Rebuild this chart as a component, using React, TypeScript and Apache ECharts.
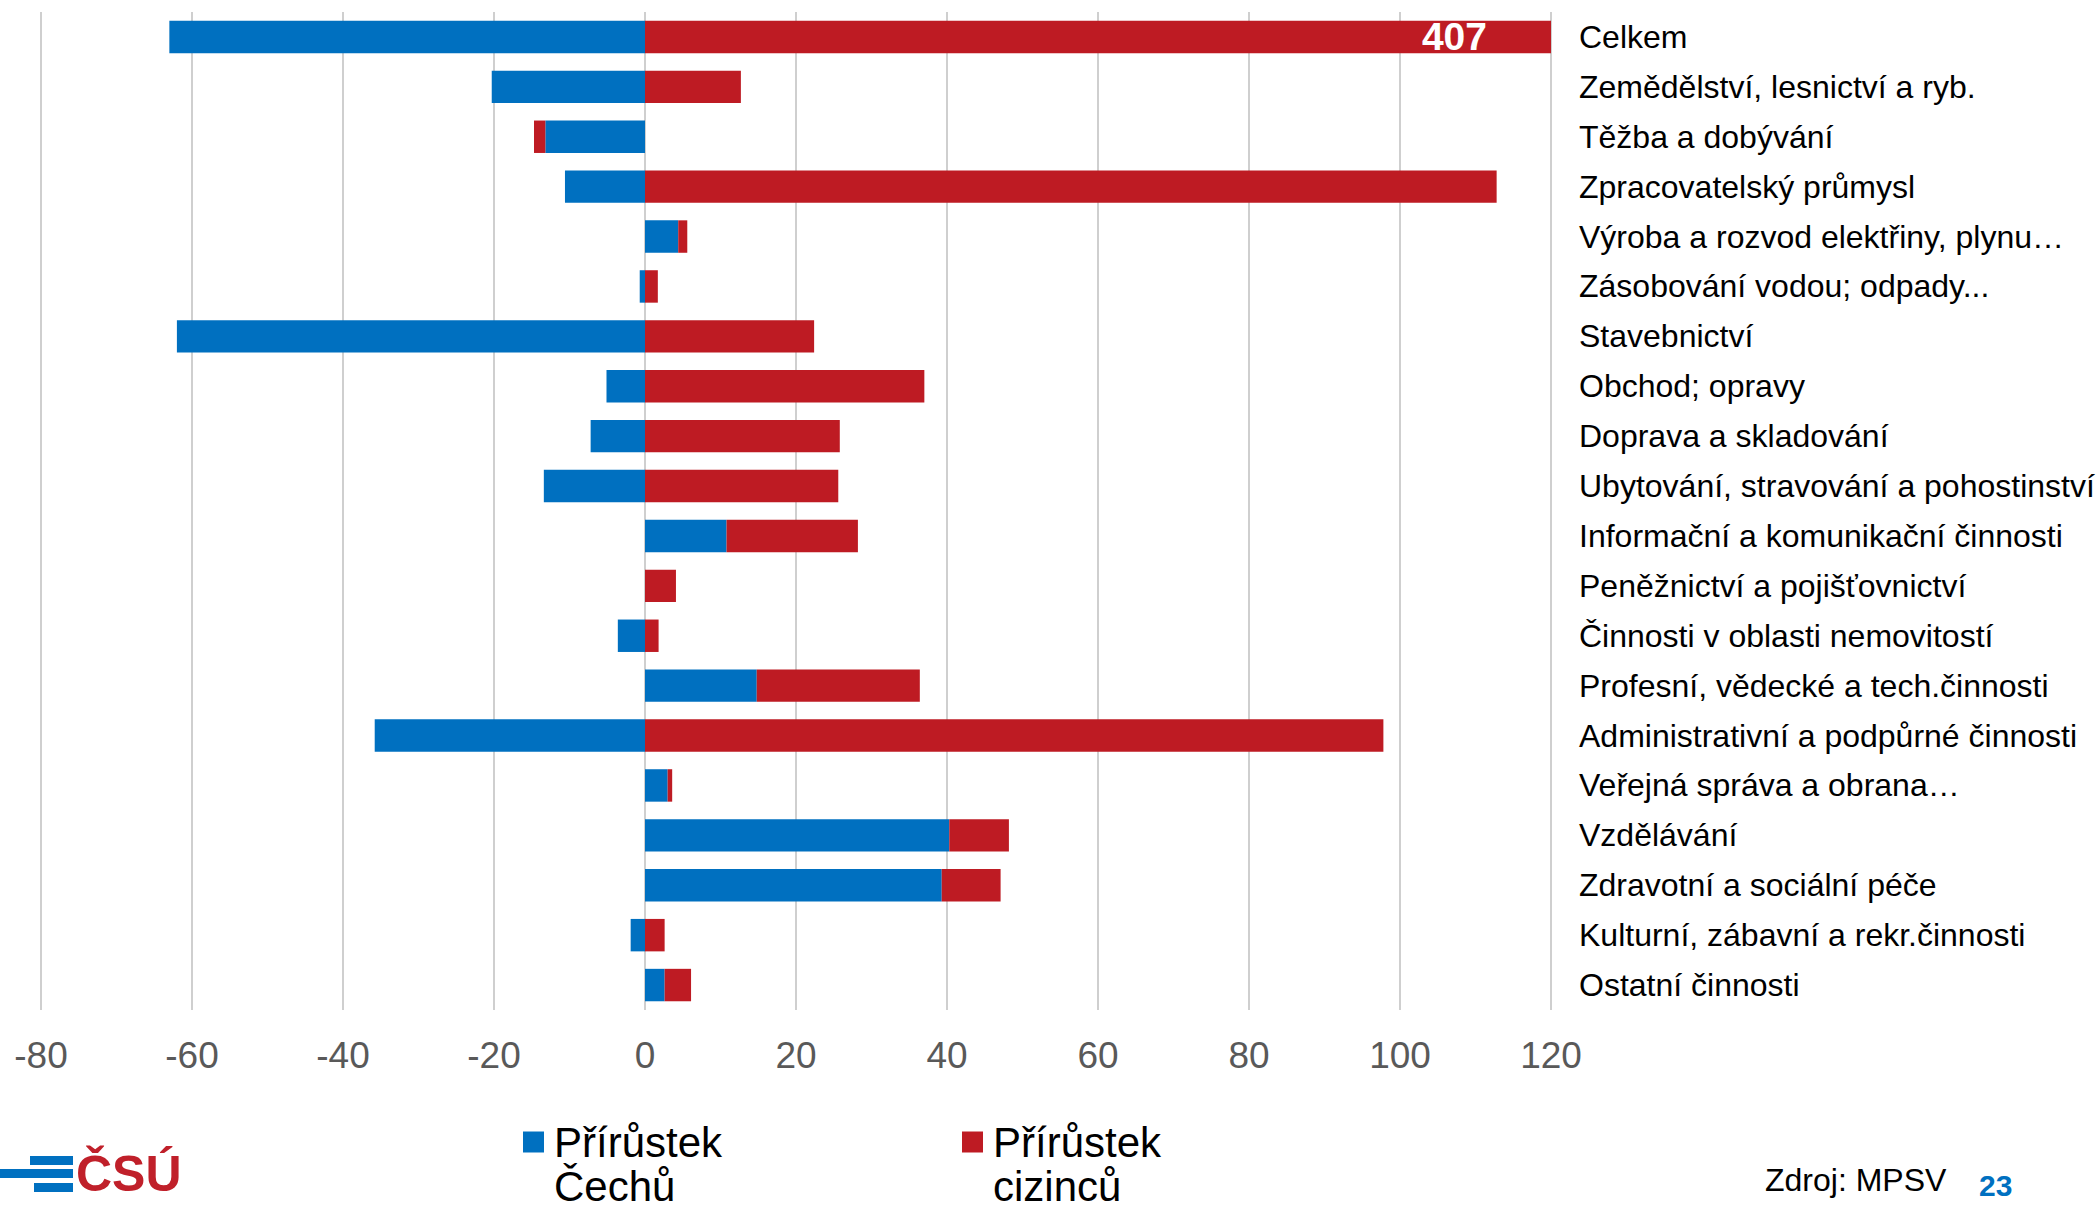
import React, { useEffect, useRef } from "react";
import * as echarts from "echarts";

const categories = [
  "Celkem",
  "Zemědělství, lesnictví a ryb.",
  "Těžba a dobývání",
  "Zpracovatelský průmysl",
  "Výroba a rozvod elektřiny, plynu…",
  "Zásobování vodou; odpady...",
  "Stavebnictví",
  "Obchod; opravy",
  "Doprava a skladování",
  "Ubytování, stravování a pohostinství",
  "Informační a komunikační činnosti",
  "Peněžnictví a pojišťovnictví",
  "Činnosti v oblasti nemovitostí",
  "Profesní, vědecké a tech.činnosti",
  "Administrativní a podpůrné činnosti",
  "Veřejná správa a obrana…",
  "Vzdělávání",
  "Zdravotní a sociální péče",
  "Kulturní, zábavní a rekr.činnosti",
  "Ostatní činnosti",
];

const cechu = [-63.0, -20.3, -13.2, -10.6, 4.4, -0.7, -62.0, -5.1, -7.2, -13.4, 10.8, 0, -3.6, 14.8, -35.8, 3.0, 40.3, 39.3, -1.9, 2.6];
const cizincu = [407, 12.7, -1.5, 112.8, 1.2, 1.7, 22.4, 37.0, 25.8, 25.6, 17.4, 4.1, 1.8, 21.6, 97.8, 0.6, 7.9, 7.8, 2.6, 3.5];

const xTicks = { min: -80, max: 120, interval: 20 };
const seriesNames = ["Přírůstek Čechů", "Přírůstek cizinců"];

const BLUE = "#0070C0";
const RED = "#BE1B23";
const FONT = "'Liberation Sans', Arial, sans-serif";

export default function App() {
  const ref = useRef<HTMLDivElement>(null);
  useEffect(() => {
    if (!ref.current) return;
    const chart = echarts.init(ref.current, null, { renderer: "svg" });
    const legendCommon = {
      orient: "horizontal",
      padding: 0,
      itemWidth: 21,
      itemHeight: 21,
      icon: "rect",
      formatter: (n: string) => "\n" + n.replace(" ", "\n"),
      textStyle: {
        fontSize: 42,
        lineHeight: 44,
        color: "#000",
        fontFamily: FONT,
        padding: [0, 0, 0, 5],
      },
    };
    chart.setOption({
      animation: false,
      textStyle: { fontFamily: FONT },
      grid: { left: 41, right: 549, top: 12, height: 998, containLabel: false },
      xAxis: {
        type: "value",
        min: xTicks.min,
        max: xTicks.max,
        interval: xTicks.interval,
        axisLine: { show: false },
        axisTick: { show: false },
        axisLabel: { fontSize: 37, color: "#595959", margin: 27, fontFamily: FONT },
        splitLine: { lineStyle: { color: "#BFBFBF", width: 1.5 } },
      },
      yAxis: {
        type: "category",
        data: categories,
        inverse: true,
        position: "right",
        axisLine: { show: false },
        axisTick: { show: false },
        axisLabel: { fontSize: 32, color: "#000", margin: 28, fontFamily: FONT, align: "left" },
        splitLine: { show: false },
      },
      legend: [
        { ...legendCommon, data: [seriesNames[0]], left: 523, top: 1076 },
        { ...legendCommon, data: [seriesNames[1]], left: 962, top: 1076 },
      ],
      series: [
        {
          name: seriesNames[0],
          type: "bar",
          stack: "total",
          barCategoryGap: "35%",
          itemStyle: { color: BLUE },
          data: cechu,
        },
        {
          name: seriesNames[1],
          type: "bar",
          stack: "total",
          barCategoryGap: "35%",
          itemStyle: { color: RED },
          data: cizincu.map((v, i) =>
            i === 0
              ? {
                  value: v,
                  label: {
                    show: true,
                    position: "insideRight",
                    distance: 64,
                    color: "#fff",
                    fontWeight: "bold",
                    fontSize: 39,
                    fontFamily: FONT,
                  },
                }
              : v
          ),
        },
      ],
      graphic: [
        { type: "rect", shape: { x: 30, y: 1156, width: 43, height: 9 }, style: { fill: BLUE } },
        { type: "rect", shape: { x: 0, y: 1169, width: 73, height: 9 }, style: { fill: BLUE } },
        { type: "rect", shape: { x: 34, y: 1183, width: 39, height: 9 }, style: { fill: BLUE } },
        {
          type: "text",
          x: 76,
          y: 1174,
          style: {
            text: "ČSÚ",
            fill: "#C0202A",
            fontSize: 50,
            fontWeight: "bold",
            fontFamily: FONT,
            verticalAlign: "middle",
            align: "left",
          },
        },
        {
          type: "text",
          x: 1765,
          y: 1180,
          style: {
            text: "Zdroj: MPSV",
            fill: "#000",
            fontSize: 32,
            fontFamily: FONT,
            verticalAlign: "middle",
            align: "left",
          },
        },
        {
          type: "text",
          x: 1979,
          y: 1185,
          style: {
            text: "23",
            fill: BLUE,
            fontSize: 30,
            fontWeight: "bold",
            fontFamily: FONT,
            verticalAlign: "middle",
            align: "left",
          },
        },
      ],
    });
    return () => chart.dispose();
  }, []);
  return (
    <div
      ref={ref}
      style={{ position: "fixed", left: 0, top: 0, width: 2100, height: 1208, background: "#fff" }}
    />
  );
}
